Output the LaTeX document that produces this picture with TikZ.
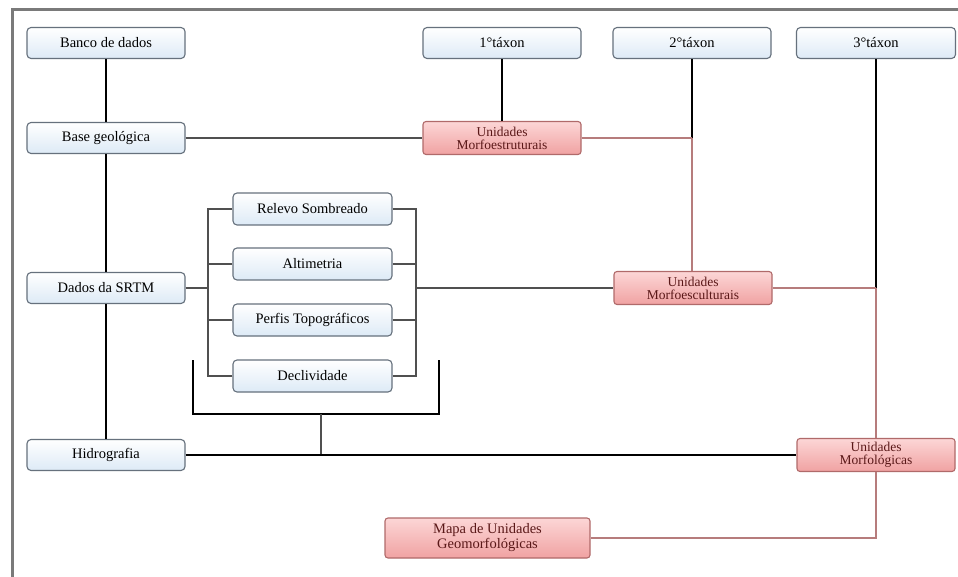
\documentclass[tikz,border=0pt]{standalone}
\usepackage{fontspec}
\setmainfont{Liberation Serif}
\definecolor{boxgray}{HTML}{66717D}
\definecolor{boxblue}{HTML}{DDEAF6}
\definecolor{redtop}{HTML}{FCD6D6}
\definecolor{redbot}{HTML}{F0A2A2}
\definecolor{redborder}{HTML}{B06A6A}
\definecolor{redtext}{HTML}{5A1818}
\definecolor{redline}{HTML}{B67C7C}
\definecolor{darkline}{HTML}{505050}
\definecolor{framegray}{HTML}{7A7A7A}
\begin{document}
\begin{tikzpicture}[x=1pt,y=-1pt,
  bbox/.style={draw=boxgray, line width=1.1pt, rounded corners=4pt, top color=white, bottom color=boxblue,
    minimum width=158pt, minimum height=31pt, inner sep=1pt, font=\rmfamily\fontsize{14.5}{16}\selectfont},
  rbox/.style={draw=redborder, line width=1.1pt, rounded corners=3pt, top color=redtop, bottom color=redbot,
    minimum width=158pt, minimum height=33pt, inner sep=1pt, align=center, text=redtext,
    font=\rmfamily\fontsize{13.5}{13}\selectfont},
  blk/.style={line width=1.8pt, black},
  gry/.style={line width=2.6pt, darkline},
  red/.style={line width=1.5pt, redline}]
\useasboundingbox (0,0) rectangle (958,577);
\fill[white] (0,0) rectangle (958,577);
% frame
\draw[framegray, line width=3pt] (12,577) -- (12,10) -- (958,10);
% left column
\node[bbox] (banco) at (106,43) {Banco de dados};
\node[bbox] (base) at (106,138) {Base geológica};
\node[bbox] (dados) at (106,288) {Dados da SRTM};
\node[bbox] (hidro) at (106,455) {Hidrografia};
% taxa
\node[bbox] (t1) at (502,43) {1°táxon};
\node[bbox] (t2) at (692,43) {2°táxon};
\node[bbox, minimum width=159pt] (t3) at (876,43) {3°táxon};
% middle column
\node[bbox, minimum width=159pt, minimum height=32pt] (relevo) at (312.5,209) {Relevo Sombreado};
\node[bbox, minimum width=159pt, minimum height=32pt] (alti) at (312.5,264) {Altimetria};
\node[bbox, minimum width=159pt, minimum height=32pt] (perfis) at (312.5,320) {Perfis Topográficos};
\node[bbox, minimum width=159pt, minimum height=32pt] (decl) at (312.5,376) {Declividade};
% red boxes
\node[rbox] (u1) at (502,138) {Unidades\\Morfoestruturais};
\node[rbox] (u2) at (693,288) {Unidades\\Morfoesculturais};
\node[rbox] (um) at (876,455) {Unidades\\Morfológicas};
\node[rbox, minimum width=205pt, minimum height=40pt, font=\rmfamily\fontsize{14.5}{15}\selectfont] (mapa) at (487.5,538) {Mapa de Unidades\\Geomorfológicas};
% coordinates
\coordinate (j2) at (692,138);
\coordinate (j3) at (876,288);
\coordinate (lb) at (208,288);
\coordinate (rb) at (416,288);
\coordinate (corner) at (876,538);
\coordinate (ua) at (193,360);
\coordinate (ub) at (193,414);
\coordinate (uc) at (439,414);
\coordinate (ud) at (439,360);
\coordinate (stem) at (321,414);
\coordinate (stemend) at (321,455);
% left vertical chain
\draw[blk] (banco) -- (base);
\draw[blk] (base) -- (dados);
\draw[blk] (dados) -- (hidro);
% base to u1
\draw[gry] (base) -- (u1);
\draw[blk] (t1) -- (u1);
% taxon 2
\draw[blk] (t2.south) -- (j2);
\draw[red] (u1.east) -- (j2);
\draw[red] (j2) -- (u2.north -| j2);
% taxon 3
\draw[blk] (t3.south) -- (j3);
\draw[red] (u2.east) -- (j3);
\draw[red] (j3) -- (um.north);
\draw[red] (um.south) -- (corner) -- (mapa.east);
% SRTM brackets
\draw[gry] (dados.east) -- (lb);
\draw[gry] (relevo.west) -| (lb);
\draw[gry] (decl.west) -| (lb);
\draw[gry] (alti.west) -- (alti.west -| lb);
\draw[gry] (perfis.west) -- (perfis.west -| lb);
\draw[gry] (relevo.east) -| (rb);
\draw[gry] (decl.east) -| (rb);
\draw[gry] (alti.east) -- (alti.east -| rb);
\draw[gry] (perfis.east) -- (perfis.east -| rb);
\draw[gry] (rb) -- (u2.west);
% U bracket
\draw[blk] (ua) -- (ub) -- (uc) -- (ud);
\draw[gry] (stem) -- (stemend);
% hidrografia line
\draw[blk] (hidro.east) -- (um.west);
\end{tikzpicture}
\end{document}
